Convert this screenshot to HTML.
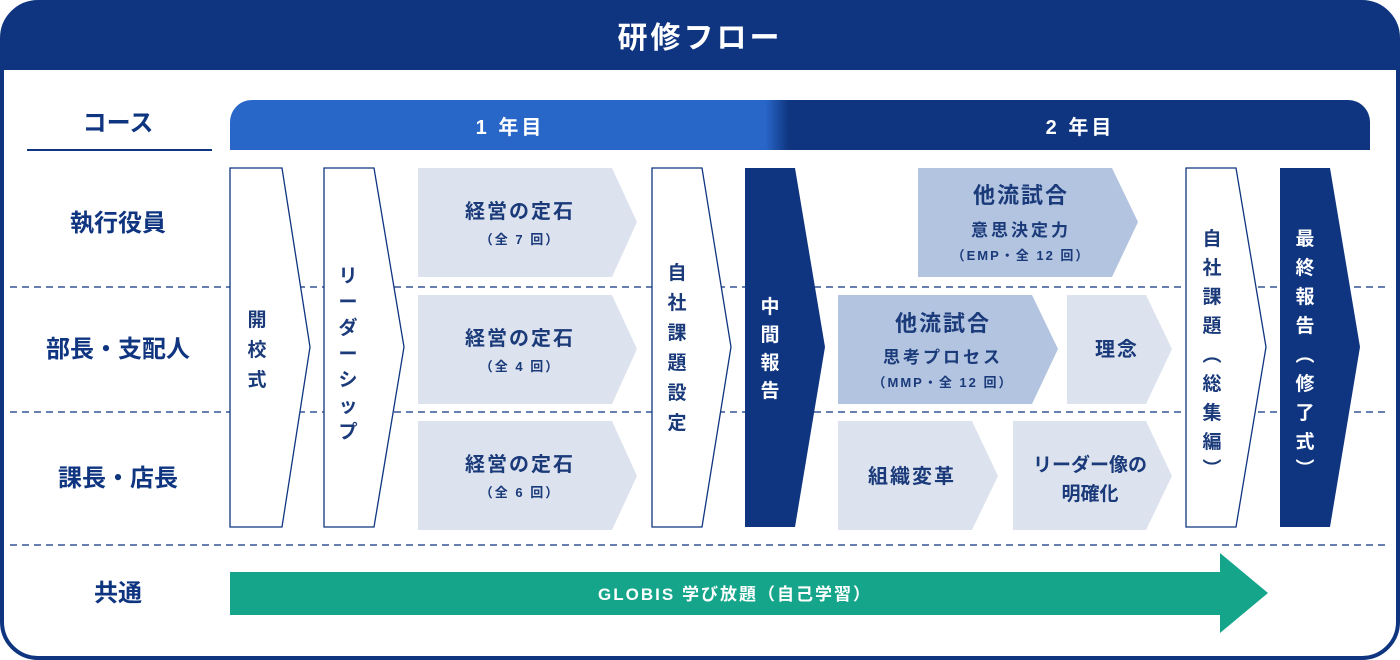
<!DOCTYPE html>
<html><head><meta charset="utf-8"><style>
html,body{margin:0;padding:0;background:#fff;}
svg{display:block;}
text{font-family:"Liberation Sans","Noto Sans CJK JP",sans-serif;font-weight:bold;}
</style></head><body>
<svg width="1400" height="660" viewBox="0 0 1400 660" xmlns="http://www.w3.org/2000/svg">
<defs>
<linearGradient id="yr" x1="230" y1="0" x2="1370" y2="0" gradientUnits="userSpaceOnUse">
<stop offset="0" stop-color="#2866c8"/><stop offset="0.47" stop-color="#2866c8"/><stop offset="0.49" stop-color="#0f3580"/><stop offset="1" stop-color="#0f3580"/>
</linearGradient>
</defs>
<rect x="2" y="2" width="1396" height="656" rx="36" fill="#fff" stroke="#0f3580" stroke-width="4"/>
<path d="M2,70 V38 A36,36 0 0 1 38,2 H1362 A36,36 0 0 1 1398,38 V70 Z" fill="#0f3580"/>
<text x="700" y="48" font-size="30" fill="#fff" text-anchor="middle" letter-spacing="3">研修フロー</text>

<text x="118" y="131" font-size="24" fill="#0f3580" text-anchor="middle">コース</text>
<rect x="27" y="149" width="185" height="2" fill="#0f3580"/>
<path d="M230,150 V122 A22,22 0 0 1 252,100 H1348 A22,22 0 0 1 1370,122 V150 Z" fill="url(#yr)"/>
<text x="510" y="134" font-size="20" fill="#fff" text-anchor="middle" letter-spacing="3">1 年目</text>
<text x="1080" y="134" font-size="20" fill="#fff" text-anchor="middle" letter-spacing="3">2 年目</text>

<g stroke="#0f3580" stroke-width="1.2" stroke-dasharray="7,5">
<line x1="10" y1="287" x2="1390" y2="287"/>
<line x1="10" y1="412" x2="1390" y2="412"/>
<line x1="10" y1="545" x2="1390" y2="545"/>
</g>

<g font-size="24" fill="#0f3580" text-anchor="middle">
<text x="118" y="231">執行役員</text>
<text x="118" y="357">部長・支配人</text>
<text x="118" y="486">課長・店長</text>
<text x="118" y="601">共通</text>
</g>

<!-- chevrons -->
<g fill="#dde3ee">
<polygon points="418,168 612,168 637,222 612,277 418,277"/>
<polygon points="418,295 612,295 637,349 612,404 418,404"/>
<polygon points="418,421 612,421 637,476 612,530 418,530"/>
<polygon points="1067,295 1146,295 1172,349 1146,404 1067,404"/>
<polygon points="838,421 972,421 998,476 972,530 838,530"/>
<polygon points="1013,421 1146,421 1172,476 1146,530 1013,530"/>
</g>
<g fill="#b3c4e0">
<polygon points="918,168 1112,168 1138,222 1112,277 918,277"/>
<polygon points="838,295 1032,295 1058,349 1032,404 838,404"/>
</g>
<g fill="#1a3a7a" text-anchor="middle">
<text x="520" y="218" font-size="20" letter-spacing="2">経営の定石</text>
<text x="520" y="244" font-size="13" letter-spacing="2">（全 7 回）</text>
<text x="520" y="345" font-size="20" letter-spacing="2">経営の定石</text>
<text x="520" y="371" font-size="13" letter-spacing="2">（全 4 回）</text>
<text x="520" y="471" font-size="20" letter-spacing="2">経営の定石</text>
<text x="520" y="497" font-size="13" letter-spacing="2">（全 6 回）</text>
<text x="1021" y="203" font-size="22" letter-spacing="2">他流試合</text>
<text x="1021" y="236" font-size="17" letter-spacing="3">意思決定力</text>
<text x="1021" y="260" font-size="13" letter-spacing="2">（EMP・全 12 回）</text>
<text x="943" y="331" font-size="22" letter-spacing="2">他流試合</text>
<text x="943" y="363" font-size="17" letter-spacing="3">思考プロセス</text>
<text x="943" y="387" font-size="13" letter-spacing="2">（MMP・全 12 回）</text>
<text x="1117" y="356" font-size="20" letter-spacing="2">理念</text>
<text x="912" y="483" font-size="20" letter-spacing="2">組織変革</text>
<text x="1090" y="471" font-size="19">リーダー像の</text>
<text x="1090" y="500" font-size="19">明確化</text>
</g>

<!-- tall pentagons -->
<g stroke="#0f3580" stroke-width="1.3" fill="#fff">
<polygon points="230,168 282,168 310,347 282,527 230,527"/>
<polygon points="324,168 374,168 404,347 374,527 324,527"/>
<polygon points="652,168 702,168 731,347 702,527 652,527"/>
<polygon points="1186,168 1236,168 1266,347 1236,527 1186,527"/>
</g>
<g fill="#0f3580">
<polygon points="745,168 795,168 825,347 795,527 745,527"/>
<polygon points="1280,168 1330,168 1360,347 1330,527 1280,527"/>
</g>

<g font-size="19" fill="#1a3a7a" text-anchor="middle">
<text x="257" y="326">開</text><text x="257" y="356">校</text><text x="257" y="386">式</text>
<text x="348" y="282">リ</text><text x="348" y="308">ー</text><text x="348" y="334">ダ</text><text x="348" y="360">ー</text><text x="348" y="386">シ</text><text x="348" y="412">ッ</text><text x="348" y="438">プ</text>
<text x="677" y="279">自</text><text x="677" y="309">社</text><text x="677" y="339">課</text><text x="677" y="369">題</text><text x="677" y="399">設</text><text x="677" y="429">定</text>
<text x="1212" y="245">自</text><text x="1212" y="274">社</text><text x="1212" y="303">課</text><text x="1212" y="332">題</text><text x="1212" y="361">︵</text><text x="1212" y="390">総</text><text x="1212" y="419">集</text><text x="1212" y="448">編</text><text x="1212" y="475">︶</text>
</g>
<g font-size="19" fill="#fff" text-anchor="middle">
<text x="770" y="313">中</text><text x="770" y="341">間</text><text x="770" y="369">報</text><text x="770" y="397">告</text>
<text x="1305" y="245">最</text><text x="1305" y="274">終</text><text x="1305" y="303">報</text><text x="1305" y="332">告</text><text x="1305" y="361">︵</text><text x="1305" y="390">修</text><text x="1305" y="419">了</text><text x="1305" y="448">式</text><text x="1305" y="475">︶</text>
</g>

<polygon points="230,572 1220,572 1220,553 1268,593 1220,633 1220,615 230,615" fill="#14a58a"/>
<text x="735" y="600" font-size="17" fill="#fff" text-anchor="middle" letter-spacing="2">GLOBIS 学び放題（自己学習）</text>
</svg>
</body></html>
